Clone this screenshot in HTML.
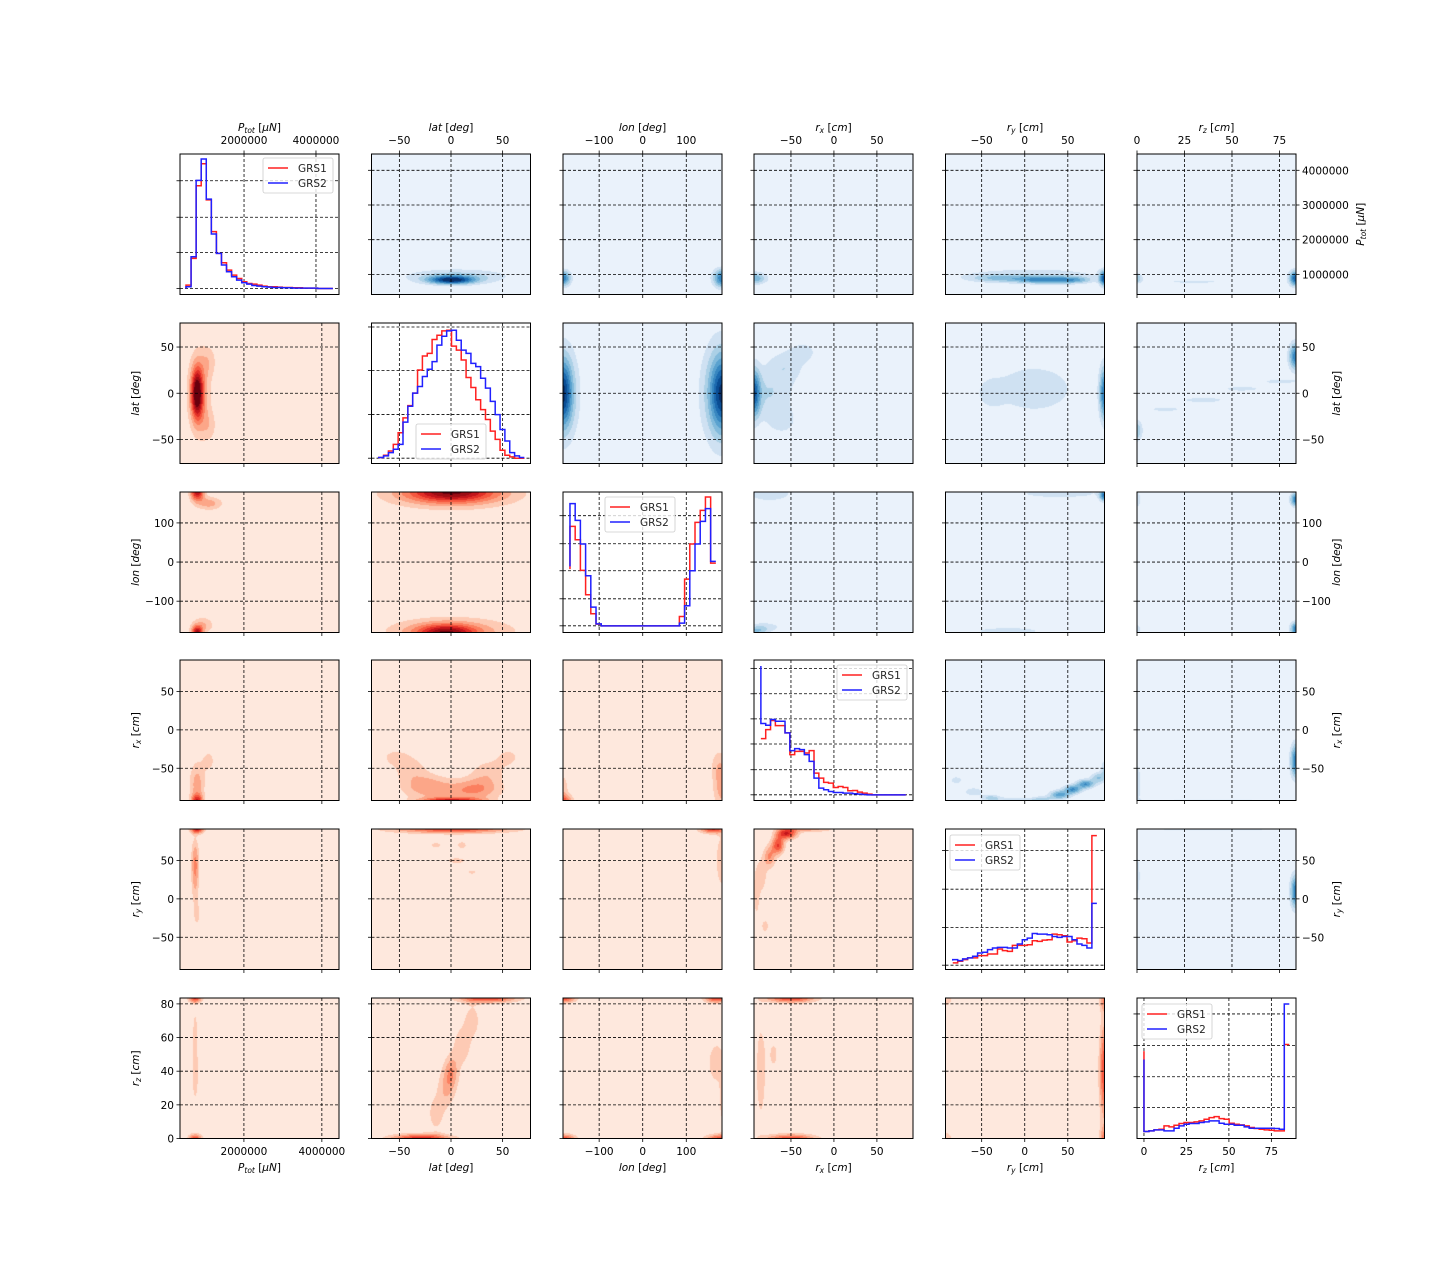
<!DOCTYPE html>
<html><head><meta charset="utf-8"><title>Corner plot GRS1 vs GRS2</title>
<style>
html,body{margin:0;padding:0;background:#fff;}
#wrap{position:relative;width:1440px;height:1280px;overflow:hidden;font-family:"DejaVu Sans","Liberation Sans",sans-serif;}
canvas{position:absolute;}
svg{position:absolute;left:0;top:0;}
</style></head>
<body>
<div id="wrap">
<svg id="fig" width="1440" height="1280"></svg>
</div>
<script>
// ---------- data ----------
const h0Start = 0.387e6, h0Step = 0.1408e6;
const h0GRS1 = [0,10,90,307,373,265,170,105,77,55,40,30,20,15,13,10,7,5,5,4,3,3,2,2,1,1,1,0,0,0];
const h0GRS2 = [0,5,95,323,387,267,163,105,70,50,35,25,17,13,9,7,5,4,3,3,2,2,1,1,1,1,1,0,0,0];
const h1Start = -70, h1Step = 4.7;
const h1GRS1Y = [427,425,418,405,385,350,305,268,230,160,118,110,68,55,42,40,88,100,130,183,213,250,280,310,345,370,403,418,423,427,427];
const h1GRS2Y = [427,425,420,410,400,385,318,270,230,210,180,158,135,85,58,42,40,70,100,110,140,150,185,215,255,295,340,375,410,420,425];
const h2Start = -167, h2Step = 11.96;
const h2GRS1Y = [268,140,180,272,345,402,433,438,438,438,438,438,438,438,438,438,438,438,438,438,438,438,410,298,193,128,92,52,250];
const h2GRS2Y = [260,72,122,193,288,382,432,438,438,438,438,438,438,438,438,438,438,438,438,438,438,438,430,378,273,193,125,87,245];
const h3Start = -85, h3Step = 5.62;
const h3GRS1Y = [252,252,225,198,213,213,235,300,290,290,295,288,355,370,383,385,398,395,398,408,407,412,415,418,420,420,420,420,420,420,420];
const h3GRS2Y = [35,207,212,195,200,200,235,288,282,285,300,320,370,400,405,410,413,413,415,415,417,418,419,420,420,420,420,420,420,420,420];
const h4Start = -83.6, h4Step = 5.77;
const h4GRS1Y = [425,425,420,415,410,410,403,403,398,398,383,388,390,372,372,372,370,358,360,356,355,338,340,343,362,358,350,352,365,40];
const h4GRS2Y = [418,415,418,413,410,405,395,393,385,380,378,378,380,380,368,355,350,336,338,338,340,345,348,345,345,355,368,372,380,245];
const h5Start = 0, h5Step = 2.95;
const h5GRS1Y = [215,457,455,452,450,440,443,438,433,430,430,428,425,420,415,412,418,420,432,435,437,440,445,448,450,452,453,455,455,195];
const h5GRS2Y = [240,457,455,452,452,455,455,447,440,435,433,433,430,428,425,425,432,435,435,438,438,443,447,447,447,447,447,448,450,73];
const h1Base = 427, h2Base = 438, h3Base = 420, h4Base = 432, h5Base = 478;

const xTicks = [[2e6,4e6],[-50,0,50],[-100,0,100],[-50,0,50],[-50,0,50],[0,25,50,75]];
const yTicks = [[1e6,2e6,3e6,4e6],[-50,0,50],[-100,0,100],[-50,0,50],[-50,0,50],[0,20,40,60,80]];
const diagYTicks = [[322,213,108,0],[397,265,132,0],[330,246,165,81,0],[378,302,227,152,75,0],[347,230,114,0],[375,280,186,93]];
const diagYLim = [[-18,402],[-16,409],[-20,401],[-17,403],[-13,412],[0,423]];

// density blobs per 2D panel: [x, y, sx, sy, peakLevel]
const kde01 = [[0,0.85e6,15,0.08e6,7.5],[5,0.95e6,35,0.15e6,2.5]];
const kde02 = [[-183,0.9e6,12,0.15e6,6],[182,0.9e6,14,0.18e6,6]];
const kde03 = [[-93,0.9e6,10,0.12e6,4]];
const kde04 = [[20,0.85e6,20,0.07e6,4.5],[-30,0.9e6,25,0.08e6,2.5],[55,0.85e6,15,0.07e6,3.5],[92,0.9e6,4,0.15e6,7],[10,1.0e6,60,0.15e6,1.6]];
const kde05 = [[83.7,0.9e6,2.5,0.15e6,7],[0,0.9e6,2,0.1e6,3],[30,0.8e6,15,0.04e6,1.3]];
const kde12 = [[-183,0,15,25,6.5],[182,0,20,28,6.5],[-183,0,30,40,2],[182,0,40,45,2]];
const kde13 = [[-93,0,5,18,6],[-75,0,20,20,2],[-55,30,15,12,1.5],[-35,45,12,8,1.3],[-60,-30,12,10,1.3]];
const kde14 = [[10,5,40,22,1.6],[92,0,4,20,6],[-40,0,10,10,1.2]];
const kde15 = [[15,-17,10,3,1.2],[35,-7,12,3,1.3],[55,5,12,3,1.2],[75,13,10,3,1.2],[83.7,40,2.5,10,6],[0,-40,2,8,3]];
const kde23 = [[-75,175,20,15,1.8],[-90,-175,8,8,2.5],[-80,-165,15,10,1.5]];
const kde24 = [[40,175,35,8,1.8],[92,170,4,10,6],[-20,-175,35,8,1.5]];
const kde25 = [[83.7,160,2,12,6],[83.7,-170,2,12,6],[0,160,1.5,15,2],[0,-170,1.5,8,2]];
const kde34 = [[-80,-65,6,4,1.5],[-60,-80,8,4,1.8],[-40,-88,8,3,2.5],[-20,-92,10,3,2],[0,-92,10,3,2],[20,-90,8,3,2.5],[40,-84,8,4,4.5],[55,-77,7,4,5],[70,-70,7,4,5],[85,-62,6,5,3],[92,-50,3,8,2]];
const kde35 = [[83.7,-40,2,15,6],[0,-70,1.5,20,2],[40,-92,40,2,1.2]];
const kde45 = [[83.7,10,2,15,6],[0,30,1.5,25,1.5],[40,91,40,2,1.3],[40,-92,40,2,1.2]];
const kde10 = [[0.8e6,0,0.1e6,18,7.5],[0.85e6,0,0.2e6,30,3],[1.1e6,35,0.15e6,12,1.3],[1.1e6,-35,0.15e6,12,1.3]];
const kde20 = [[0.8e6,180,0.12e6,15,7],[1.1e6,150,0.25e6,12,2.5],[0.8e6,-180,0.1e6,12,7],[0.95e6,-160,0.2e6,15,2]];
const kde21 = [[0,180,30,18,6],[0,170,45,25,2.5],[-5,-180,20,15,6],[0,-175,45,25,2.5]];
const kde30 = [[0.8e6,-92,0.1e6,6,5],[0.8e6,-70,0.14e6,20,2.5],[1.1e6,-40,0.12e6,10,1.4]];
const kde31 = [[0,-92,20,3,6],[0,-80,30,10,2],[-40,-50,12,12,1.5],[-25,-70,15,10,1.8],[35,-55,12,12,1.5],[55,-35,10,10,1.2],[25,-75,15,10,1.8],[-55,-35,10,8,1.2]];
const kde32 = [[-183,-92,15,6,4],[-183,-75,10,15,1.5],[182,-75,14,20,2.5],[175,-45,14,15,1.4]];
const kde40 = [[0.8e6,91,0.12e6,4,6],[0.75e6,50,0.07e6,20,2.5],[0.75e6,20,0.07e6,25,1.6],[0.8e6,-20,0.06e6,10,1.3]];
const kde41 = [[0,91,40,4,5],[-15,70,5,4,1.3],[10,70,5,5,1.3],[5,50,10,4,1.3],[20,35,5,3,1.2]];
const kde42 = [[160,91,20,4,5],[182,50,12,30,1.6]];
const kde43 = [[-55,85,8,5,6],[-65,70,5,8,5],[-75,55,5,10,3],[-85,30,5,15,1.8],[-90,0,3,20,1.3],[-30,91,20,3,2.5],[-80,-35,5,10,1.2]];
const kde50 = [[0.75e6,83.5,0.12e6,2,5],[0.75e6,0,0.12e6,2,5],[0.75e6,40,0.07e6,15,1.6],[0.75e6,65,0.04e6,8,1.3]];
const kde51 = [[-30,0,20,2,6],[35,83.5,20,2,5],[-15,15,6,8,1.5],[-5,30,6,8,2],[0,40,5,7,2.5],[10,55,6,8,1.8],[20,70,6,8,1.5]];
const kde52 = [[-183,0,20,2,5],[182,0,25,2,5],[-183,83.5,20,2,5],[170,83.5,20,2,5],[170,45,20,12,1.4],[182,20,5,10,1.2]];
const kde53 = [[-50,83.5,20,2,5],[-50,0,20,2,5],[-85,40,5,25,1.5],[-70,50,5,8,1.2]];
const kde54 = [[92,40,4,20,5],[92,83,4,5,3],[92,0,4,5,3],[-92,83,5,3,2],[-92,0,5,3,2]];

// ---------- layout ----------
const COLS=[180,371.5,563,754,945.5,1137], ROWS=[154,323,492,660,829,998], W=159, H=140.5;
const VX=[[0.36e6,4.44e6],[-77,77],[-183,182],[-93,92],[-92,92.6],[0,83.7]];
const VY=[[0.42e6,4.47e6],[-76,76],[-180,179],[-92,91],[-92,91],[0,83.5]];
const DX=[[0.22e6,4.64e6],[-77,77],[-183,182],[-93,92],[-92,92.6],[-4.1,89.5]];
const BLUES=['#eaf2fb','#cfe1f2','#abd0e6','#82badb','#5aa2cf','#3887c0','#1c6aaf','#0a4d93','#08306b'];
const REDS=['#fee8dd','#fdcab4','#fca688','#fb7f5f','#f5573f','#e12f27','#c1151b','#9c0d14','#67000d'];
const VARN=['ptot','lat','lon','rx','ry','rz'];
const KDE={'01':kde01,'02':kde02,'03':kde03,'04':kde04,'05':kde05,'12':kde12,'13':kde13,'14':kde14,'15':kde15,'23':kde23,'24':kde24,'25':kde25,'34':kde34,'35':kde35,'45':kde45,
'10':kde10,'20':kde20,'21':kde21,'30':kde30,'31':kde31,'32':kde32,'40':kde40,'41':kde41,'42':kde42,'43':kde43,'50':kde50,'51':kde51,'52':kde52,'53':kde53,'54':kde54};
const HIST=[
 {s:h0Start,d:h0Step,a:h0GRS1,b:h0GRS2},
 {s:h1Start,d:h1Step,a:h1GRS1Y.map(v=>h1Base-v),b:h1GRS2Y.map(v=>h1Base-v)},
 {s:h2Start,d:h2Step,a:h2GRS1Y.map(v=>h2Base-v),b:h2GRS2Y.map(v=>h2Base-v)},
 {s:h3Start,d:h3Step,a:h3GRS1Y.map(v=>h3Base-v),b:h3GRS2Y.map(v=>h3Base-v)},
 {s:h4Start,d:h4Step,a:h4GRS1Y.map(v=>h4Base-v),b:h4GRS2Y.map(v=>h4Base-v)},
 {s:h5Start,d:h5Step,a:h5GRS1Y.map(v=>h5Base-v),b:h5GRS2Y.map(v=>h5Base-v)}];
const LEG=[[263,158],[416,424],[605,497],[837,665],[950,835],[1142,1004]];

const NS='http://www.w3.org/2000/svg';
const svg=document.getElementById('fig');
const wrap=document.getElementById('wrap');
function mk(tag,attrs,parent){const e=document.createElementNS(NS,tag);for(const k in attrs)e.setAttribute(k,attrs[k]);(parent||svg).appendChild(e);return e;}
function sx(lim,left){return v=>left+(v-lim[0])/(lim[1]-lim[0])*W;}
function sy(lim,top){return v=>top+H-(v-lim[0])/(lim[1]-lim[0])*H;}
function fmt(v){return Math.abs(v)>=1e5?String(Math.round(v)):(v<0?'\u2212'+Math.abs(v):String(v));}

for(const key in KDE){
  const r=+key[0], c=+key[1], blobs=KDE[key];
  const cv=document.createElement('canvas');
  cv.width=159; cv.height=141;
  cv.style.left=COLS[c]+'px'; cv.style.top=ROWS[r]+'px';
  
  
  wrap.insertBefore(cv,svg);
  const ctx=cv.getContext('2d');
  const pal=(c>r)?BLUES:REDS;
  const xl=VX[c], yl=VY[r];
  for(let j=0;j<141;j++){
    const yv=yl[1]-(j+0.5)/141*(yl[1]-yl[0]);
    for(let i=0;i<159;i++){
      const xv=xl[0]+(i+0.5)/159*(xl[1]-xl[0]);
      let d=0;
      for(const b of blobs){const dx=(xv-b[0])/b[2], dy=(yv-b[1])/b[3];d+=b[4]*Math.exp(-0.5*(dx*dx+dy*dy));}
      ctx.fillStyle=pal[Math.max(0,Math.min(8,Math.floor(d)))];
      ctx.fillRect(i,j,1,1);
    }
  }
}

for(let r=0;r<6;r++){for(let c=0;c<6;c++){
  const L=COLS[c], T=ROWS[r], diag=(r===c);
  const g=mk('g',{});
  
  
  const xs=diag?sx(DX[c],L):sx(VX[c],L);
  const ylim=diag?diagYLim[r]:VY[r];
  const ys=sy(ylim,T);
  const yt=diag?diagYTicks[r]:yTicks[r];
  for(const v of xTicks[c]){const x=xs(v);if(x<L-0.5||x>L+W+0.5)continue;
    const gl=mk('line',{x1:x,x2:x,y1:T,y2:T+H,stroke:'#000','stroke-width':0.8,'stroke-dasharray':'3,2'},g);
    
    
    const tk=mk('line',{x1:x,x2:x,y1:T+H,y2:T+H+3.5,stroke:'#000','stroke-width':0.8},g);
    
    
    if(r===0){const tt=mk('line',{x1:x,x2:x,y1:T,y2:T-3.5,stroke:'#000','stroke-width':0.8},g);
      
      }
  }
  for(const v of yt){const y=ys(v);if(y<T-0.5||y>T+H+0.5)continue;
    const gl=mk('line',{x1:L,x2:L+W,y1:y,y2:y,stroke:'#000','stroke-width':0.8,'stroke-dasharray':'3,2'},g);
    
    
    const tk=mk('line',{x1:L-3.5,x2:L,y1:y,y2:y,stroke:'#000','stroke-width':0.8},g);
    
    
    if(c===5&&!diag){const tr=mk('line',{x1:L+W,x2:L+W+3.5,y1:y,y2:y,stroke:'#000','stroke-width':0.8},g);
      
      }
  }
  if(diag){
    const hd=HIST[r];
    const clip=mk('clipPath',{id:'clip'+r},g);
    mk('rect',{x:L,y:T,width:W,height:H},clip);
    [['a','#ff2020','GRS1'],['b','#2020ff','GRS2']].forEach(([k,col,nm])=>{
      const vals=hd[k];
      let d='M'+xs(hd.s)+','+ys(vals[0]);
      for(let i=1;i<vals.length;i++){d+=' V'+ys(vals[i])+' H'+xs(hd.s+i*hd.d);}
      const p=mk('path',{d:d,fill:'none',stroke:col,'stroke-width':1.5,'clip-path':'url(#clip'+r+')'},g);
      
      
    });
    const lx=LEG[r][0], ly=LEG[r][1];
    const lg=mk('g',{},g);
    
    
    mk('rect',{x:lx,y:ly,width:70,height:35,rx:2,fill:'#fff','fill-opacity':0.8,stroke:'#cccccc','stroke-width':0.8},lg);
    [['#ff2020','GRS1',10],['#2020ff','GRS2',25]].forEach(([col,nm,dy])=>{
      const e=mk('g',{},lg);
      
      
      mk('line',{x1:lx+5,x2:lx+25,y1:ly+dy,y2:ly+dy,stroke:col,'stroke-width':1.5},e);
      const t=mk('text',{x:lx+35,y:ly+dy+4,'font-size':'10.5px',fill:'#262626'},e);
      t.textContent=nm;
    });
  }
  const fr=mk('rect',{x:L,y:T,width:W,height:H,fill:'none',stroke:'#000','stroke-width':1},g);
  
  
}}

const LABELS=[['P','tot',' [','\u03bcN',']'],['lat',null,' [','deg',']'],['lon',null,' [','deg',']'],['r','x',' [','cm',']'],['r','y',' [','cm',']'],['r','z',' [','cm',']']];
function label(i,x,y,rot,name){
  const t=mk('text',{x:x,y:y,'font-size':'10.5px','text-anchor':'middle',fill:'#000','font-style':'italic',transform:rot?('rotate(-90 '+x+' '+y+')'):''});
  
  
  const l=LABELS[i];
  const a=document.createElementNS(NS,'tspan');a.textContent=l[0];t.appendChild(a);
  if(l[1]){const s=document.createElementNS(NS,'tspan');s.setAttribute('font-size','7.5px');s.setAttribute('dy','2');s.textContent=l[1];t.appendChild(s);}
  const b=document.createElementNS(NS,'tspan');b.setAttribute('font-style','normal');if(l[1])b.setAttribute('dy','-2');b.textContent=l[2];t.appendChild(b);
  const cpart=document.createElementNS(NS,'tspan');cpart.textContent=l[3];t.appendChild(cpart);
  const d=document.createElementNS(NS,'tspan');d.setAttribute('font-style','normal');d.textContent=l[4];t.appendChild(d);
}
function tickText(txt,x,y,anchor,name){
  const t=mk('text',{x:x,y:y,'font-size':'10.5px','text-anchor':anchor,fill:'#000'});
  
  
  t.textContent=txt;
}
for(let c=0;c<6;c++){
  const top=sx(c===0?DX[0]:VX[c],COLS[c]);
  for(const v of xTicks[c]){const x=top(v);if(x<COLS[c]-1||x>COLS[c]+W+1)continue;tickText(fmt(v),x,144,'middle','top-x-tick-label');}
  label(c,COLS[c]+W/2,131,false,'top-x-axis-title-'+VARN[c]);
  const bot=sx(c===5?DX[5]:VX[c],COLS[c]);
  for(const v of xTicks[c]){const x=bot(v);if(x<COLS[c]-1||x>COLS[c]+W+1)continue;tickText(fmt(v),x,1155,'middle','bottom-x-tick-label');}
  label(c,COLS[c]+W/2,1171,false,'bottom-x-axis-title-'+VARN[c]);
}
for(let r=0;r<6;r++){
  const ys=sy(VY[r],ROWS[r]);
  if(r>0){
    for(const v of yTicks[r]){tickText(fmt(v),174,ys(v)+4,'end','left-y-tick-label');}
    label(r,139,ROWS[r]+H/2,true,'left-y-axis-title-'+VARN[r]);
  }
  if(r<5){
    for(const v of yTicks[r]){tickText(fmt(v),1302,ys(v)+4,'start','right-y-tick-label');}
    label(r,r===0?1364:1340,ROWS[r]+H/2,true,'right-y-axis-title-'+VARN[r]);
  }
}
</script>
</body></html>
